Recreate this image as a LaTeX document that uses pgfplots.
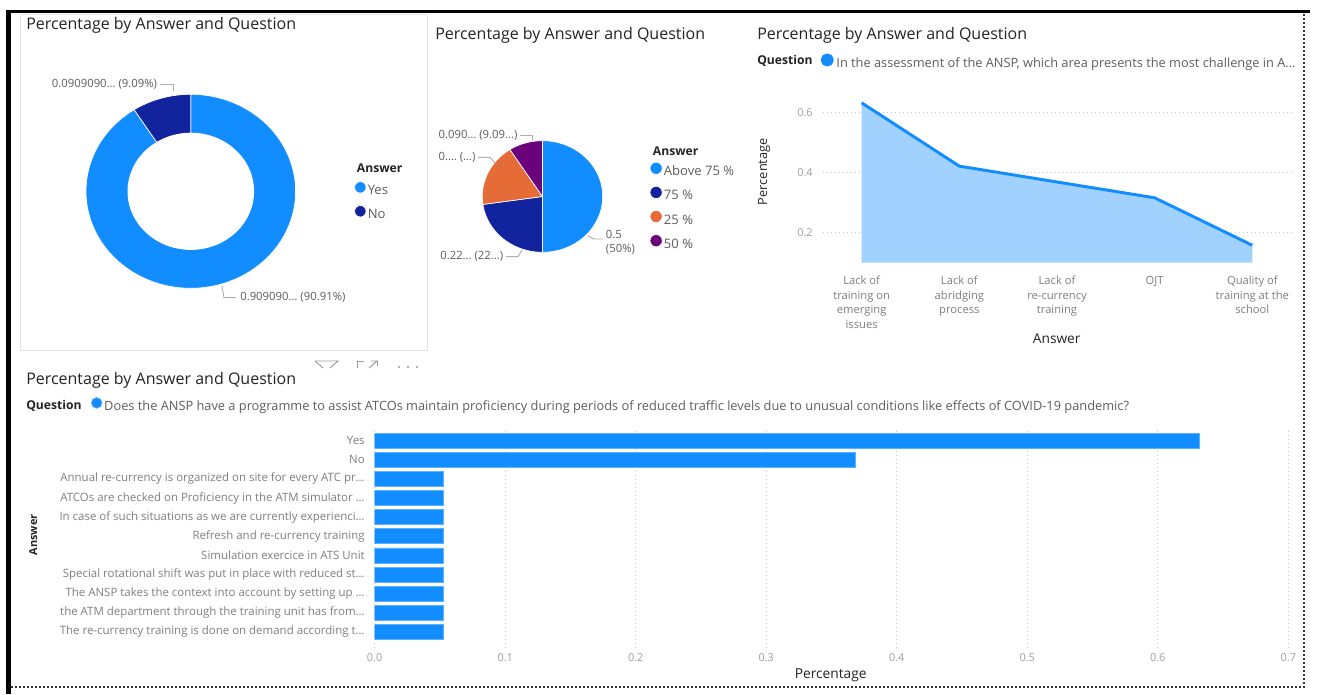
\documentclass[border=0pt]{standalone}
\usepackage{pgfplots}
\pgfplotsset{compat=1.18}
\usepackage{fontspec}
\setmainfont{Open Sans}
\definecolor{pbBlue}{HTML}{118DFF}
\definecolor{pbBlueEdge}{HTML}{5CB2FF}
\definecolor{pbNavy}{HTML}{12239E}
\definecolor{pbOrange}{HTML}{E66C37}
\definecolor{pbPurple}{HTML}{6B007B}
\definecolor{pbArea}{HTML}{A0D1FF}
\definecolor{pbTitle}{HTML}{252423}
\definecolor{pbText}{HTML}{605E5C}
\definecolor{pbTick}{HTML}{7F7F7F}
\definecolor{pbNum}{HTML}{A0A0A0}
\definecolor{pbGrid}{HTML}{C8C8C8}
\definecolor{pbLead}{HTML}{B0B0B0}
\definecolor{pbPanel}{HTML}{E4E4E4}
\definecolor{pbFrame}{HTML}{333333}
\definecolor{pbIcon}{HTML}{9A9A9A}

\newcommand{\fTitle}{\fontsize{12}{14}\selectfont}
\newcommand{\fLegT}{\fontsize{9.1}{11}\selectfont\bfseries}
\newcommand{\fLeg}{\fontsize{9.8}{11}\selectfont}
\newcommand{\fQ}{\fontsize{9.6}{11}\selectfont}
\newcommand{\fData}{\fontsize{8.5}{10}\selectfont}
\newcommand{\fCat}{\fontsize{8.6}{10}\selectfont}
\newcommand{\fXcat}{\fontsize{8.4}{10.9}\selectfont}
\newcommand{\fNum}{\fontsize{8.2}{10}\selectfont}
\newcommand{\fAxT}{\fontsize{9.6}{11}\selectfont}
\newcommand{\fAxTb}{\fontsize{10.3}{12}\selectfont}

% ---- data ----
\def\donutYes{0.909091}
\def\donutNo{0.090909}
\def\pieAbove{0.5}
\def\pieSeventyFive{0.227273}
\def\pieTwentyFive{0.181818}
\def\pieFifty{0.090909}

\begin{document}
\begin{tikzpicture}[x=0.75pt,y=0.75pt]
\fill[white] (0,0) rectangle (1322,694);

% frame
\fill[black] (6,694-10) rectangle (1310,694-13.3);
\fill[black] (6,694-10) rectangle (10.7,0);
\draw[pbFrame, line width=1.5pt, dash pattern=on 1.5pt off 1.5pt] (1303.5,694-14) -- (1303.5,694-688);
\draw[pbFrame, line width=1.5pt, dash pattern=on 1.5pt off 1.5pt] (11,694-687) -- (1303.5,694-687);

% donut panel border
\draw[pbPanel, line width=0.75pt] (20.7,694-15) rectangle (427.3,694-350);

% angles
\pgfmathsetmacro{\dA}{90}
\pgfmathsetmacro{\dB}{\dA-360*\donutYes}
\pgfmathsetmacro{\dC}{\dB-360*\donutNo}
\pgfmathsetmacro{\pA}{90}
\pgfmathsetmacro{\pB}{\pA-360*\pieAbove}
\pgfmathsetmacro{\pC}{\pB-360*\pieSeventyFive}
\pgfmathsetmacro{\pD}{\pC-360*\pieTwentyFive}
\pgfmathsetmacro{\pE}{\pD-360*\pieFifty}

% ---------------- donut ----------------
\begin{scope}[xshift=64.5pt, yshift=304.275pt]
\begin{axis}[scale only axis,
  width=157.2pt, height=145.5pt,
  xmin=-1,xmax=1,ymin=-1,ymax=1, hide axis, clip=false,
  legend image code/.code={\fill[#1] (4.3pt,3.3pt) circle (4.3pt);},
  legend cell align=left,
  legend style={at={(1.280,0.447)}, anchor=west, draw=none, fill=none,
    inner sep=0pt, outer sep=0pt, row sep=5.4pt,
    nodes={inner sep=0pt, text height=7pt, text depth=2.3pt},
    /tikz/every odd column/.style={column sep=1.0pt},
    font=\fLeg, text=pbText}]
\addplot[fill=pbBlue, draw=white, line width=0.5pt, domain=\dB:\dA, samples=120, variable=\t]
  ({cos(\t)},{sin(\t)}) -- (axis cs:0,0) -- cycle;
\addlegendentry{Yes}
\addplot[fill=pbNavy, draw=white, line width=0.5pt, domain=\dC:\dB, samples=40, variable=\t]
  ({cos(\t)},{sin(\t)}) -- (axis cs:0,0) -- cycle;
\addlegendentry{No}
\addplot[fill=white, draw=none, domain=0:360, samples=120, variable=\t, forget plot]
  ({0.604*cos(\t)},{0.604*sin(\t)}) -- cycle;
\end{axis}
\end{scope}

% ---------------- pie ----------------
\begin{scope}[xshift=361.725pt, yshift=331.275pt]
\begin{axis}[scale only axis,
  width=90.3pt, height=83.7pt,
  xmin=-1,xmax=1,ymin=-1,ymax=1, hide axis, clip=false,
  legend image code/.code={\fill[#1] (4.6pt,3.3pt) circle (4.6pt);},
  legend cell align=left,
  legend style={at={(1.390,0.410)}, anchor=west, draw=none, fill=none,
    inner sep=0pt, outer sep=0pt, row sep=5.3pt,
    nodes={inner sep=0pt, text height=7pt, text depth=2.3pt},
    /tikz/every odd column/.style={column sep=1.0pt},
    font=\fLeg, text=pbText}]
\addplot[fill=pbBlue, draw=white, line width=0.5pt, domain=\pB:\pA, samples=80, variable=\t]
  ({cos(\t)},{sin(\t)}) -- (axis cs:0,0) -- cycle;
\addlegendentry{Above 75 \%}
\addplot[fill=pbNavy, draw=white, line width=0.5pt, domain=\pC:\pB, samples=50, variable=\t]
  ({cos(\t)},{sin(\t)}) -- (axis cs:0,0) -- cycle;
\addlegendentry{75 \%}
\addplot[fill=pbOrange, draw=white, line width=0.5pt, domain=\pD:\pC, samples=40, variable=\t]
  ({cos(\t)},{sin(\t)}) -- (axis cs:0,0) -- cycle;
\addlegendentry{25 \%}
\addplot[fill=pbPurple, draw=white, line width=0.5pt, domain=\pE:\pD, samples=30, variable=\t]
  ({cos(\t)},{sin(\t)}) -- (axis cs:0,0) -- cycle;
\addlegendentry{50 \%}
\end{axis}
\end{scope}

% ---------------- area ----------------
\begin{scope}[xshift=616.95pt, yshift=323.475pt]
\begin{axis}[scale only axis,
  width=351.6pt, height=124.05pt,
  xmin=-0.4, xmax=4.4, ymin=0.1, ymax=0.65,
  axis line style={draw=none}, major tick length=0pt,
  xtick={0,1,2,3,4},
  xticklabels={{Lack of\\training on\\emerging\\issues},{Lack of\\abridging\\process},{Lack of\\re-currency\\training},{OJT},{Quality of\\training at the\\school}},
  xticklabel style={font=\fXcat, text=pbTick, align=center, anchor=north, inner sep=0pt, yshift=-10pt},
  ytick={0.2,0.4,0.6},
  yticklabel={\pgfmathprintnumber[fixed,fixed zerofill,precision=1,assume math mode=true]{\tick}},
  yticklabel style={font=\fNum, text=pbNum, anchor=east, inner sep=0pt, xshift=-7.2pt},
  ymajorgrids, major grid style={pbGrid, line width=0.6pt, dash pattern=on 0.6pt off 2.4pt},
  legend image code/.code={\fill[#1] (3.8pt,3.3pt) circle (3.8pt);},
  legend style={at={(-0.004,1.2134)}, anchor=west, draw=none, fill=none,
    inner sep=0pt, outer sep=0pt,
    nodes={inner sep=0pt, text height=7pt, text depth=2.3pt},
    /tikz/every odd column/.style={column sep=2.0pt},
    font=\fQ, text=pbText}]
\addplot[fill=pbArea, draw=none, forget plot] coordinates {(0,0.6316) (1,0.4211) (2,0.3684) (3,0.3158) (4,0.1579)} \closedcycle;
\addplot[pbBlue, line width=2.2pt, line join=round] coordinates {(0,0.6316) (1,0.4211) (2,0.3684) (3,0.3158) (4,0.1579)};
\addlegendentry{In the assessment of the ANSP, which area presents the most challenge in A…}
\end{axis}
\end{scope}

% ---------------- bars ----------------
\begin{scope}[xshift=281.025pt, yshift=34.5pt]
\begin{axis}[scale only axis,
  width=685.2pt, height=165pt,
  xmin=0, xmax=0.7, ymin=-0.84, ymax=10.66,
  xbar, bar width=11.25pt,
  axis line style={draw=none}, major tick length=0pt,
  xtick={0,0.1,0.2,0.3,0.4,0.5,0.6,0.7},
  xticklabel={\pgfmathprintnumber[fixed,fixed zerofill,precision=1,assume math mode=true]{\tick}},
  xticklabel style={font=\fNum, text=pbNum, anchor=north, inner sep=0pt, yshift=-4.3pt},
  xmajorgrids, major grid style={pbGrid, line width=0.6pt, dash pattern=on 0.6pt off 2.4pt},
  ytick={0,1,2,3,4,5,6,7,8,9,10},
  yticklabels={{The re-currency training is done on demand according t…},
    {the ATM department through the training unit has from…},
    {The ANSP takes the context into account by setting up …},
    {Special rotational shift was put in place with reduced st…},
    {Simulation exercice in ATS Unit},
    {Refresh and re-currency training},
    {In case of such situations as we are currently experienci…},
    {ATCOs are checked on Proficiency in the ATM simulator …},
    {Annual re-currency is organized on site for every ATC pr…},
    {No},{Yes}},
  yticklabel style={font=\fCat, text=pbTick, anchor=east, inner sep=0pt, xshift=-7.3pt},
  legend image code/.code={\fill[#1] (4.0pt,3.3pt) circle (4.0pt);},
  legend style={at={(-0.3105,1.1028)}, anchor=west, draw=none, fill=none,
    inner sep=0pt, outer sep=0pt,
    nodes={inner sep=0pt, text height=7pt, text depth=2.3pt},
    /tikz/every odd column/.style={column sep=1.4pt},
    font=\fQ, text=pbText}]
\addplot[fill=pbBlue, draw=pbBlueEdge, line width=0.5pt] coordinates {
  (0.0526,0) (0.0526,1) (0.0526,2) (0.0526,3) (0.0526,4) (0.0526,5)
  (0.0526,6) (0.0526,7) (0.0526,8) (0.3684,9) (0.6316,10)};
\addlegendentry{Does the ANSP have a programme to assist ATCOs maintain proficiency during periods of reduced traffic levels due to unusual conditions like effects of COVID-19 pandemic?}
\end{axis}
\end{scope}

% ---------------- titles and texts ----------------
\node[anchor=base west, inner sep=0pt, font=\fTitle, text=pbTitle] at (26,694-30) {Percentage by Answer and Question};
\node[anchor=base west, inner sep=0pt, font=\fTitle, text=pbTitle] at (435,694-39.7) {Percentage by Answer and Question};
\node[anchor=base west, inner sep=0pt, font=\fTitle, text=pbTitle] at (757,694-39.7) {Percentage by Answer and Question};
\node[anchor=base west, inner sep=0pt, font=\fTitle, text=pbTitle] at (26,694-384) {Percentage by Answer and Question};

\node[anchor=base west, inner sep=0pt, font=\fLegT, text=pbTitle] at (356.7,694-172.6) {Answer};
\node[anchor=base west, inner sep=0pt, font=\fLegT, text=pbTitle] at (652.7,694-155.3) {Answer};
\node[anchor=base west, inner sep=0pt, font=\fLegT, text=pbTitle] at (757,694-65) {Question};
\node[anchor=base west, inner sep=0pt, font=\fLegT, text=pbTitle] at (26,694-409.3) {Question};

% data labels
\node[anchor=east, inner sep=0pt, font=\fData, text=pbText] at (157.3,694-84) {0.0909090… (9.09\%)};
\node[anchor=west, inner sep=0pt, font=\fData, text=pbText] at (240,694-297.7) {0.909090… (90.91\%)};
\draw[pbLead, line width=0.7pt] (160,694-84) -- (173.3,694-84) -- (173.3,694-91);
\draw[pbLead, line width=0.7pt] (222,694-286) -- (224,694-297.7) -- (236,694-297.7);

\node[anchor=west, inner sep=0pt, font=\fData, text=pbText] at (438.3,694-135.7) {0.090… (9.09…)};
\node[anchor=west, inner sep=0pt, font=\fData, text=pbText] at (438.3,694-157.3) {0.… (…)};
\node[anchor=west, inner sep=0pt, font=\fData, text=pbText] at (440,694-256.7) {0.22… (22…)};
\node[anchor=west, inner sep=0pt, font=\fData, text=pbText] at (605.7,694-234.3) {0.5};
\node[anchor=west, inner sep=0pt, font=\fData, text=pbText] at (605.7,694-249.3) {(50\%)};
\draw[pbLead, line width=0.7pt] (520,694-135.7) -- (532.7,694-135.7) -- (532.7,694-141);
\draw[pbLead, line width=0.7pt] (478,694-157.3) -- (490,694-157.3) -- (495,694-163);
\draw[pbLead, line width=0.7pt] (506,694-256.7) -- (518,694-256.7) -- (522,694-250);
\draw[pbLead, line width=0.7pt] (588,694-236) -- (594,694-239) -- (603,694-239);

% axis titles
\node[rotate=90, inner sep=0pt, font=\fAxT, text=pbTitle] at (764,694-171.7) {Percentage};
\node[inner sep=0pt, font=\fAxTb, text=pbTitle] at (1056.7,694-338.3) {Answer};
\node[rotate=90, inner sep=0pt, font=\fontsize{8.2}{10}\selectfont\bfseries, text=pbTitle] at (33.3,694-535) {Answer};
\node[inner sep=0pt, font=\fAxTb, text=pbTitle] at (830.7,694-675.7) {Percentage};

% header icons
\draw[pbIcon, line width=0.7pt] (315,694-361) -- (338,694-361) -- (330,694-368);
\draw[pbIcon, line width=0.7pt] (315,694-361) -- (323,694-368);
\draw[pbIcon, line width=0.7pt] (357,694-368) -- (357,694-361) -- (364,694-361);
\draw[pbIcon, line width=0.7pt] (369,694-368) -- (377,694-361) -- (371,694-361);
\draw[pbIcon, line width=0.7pt] (377,694-361) -- (377,694-366);
\fill[pbIcon] (399,694-367) circle (1.1);
\fill[pbIcon] (408,694-367) circle (1.1);
\fill[pbIcon] (417,694-367) circle (1.1);
\end{tikzpicture}
\end{document}
